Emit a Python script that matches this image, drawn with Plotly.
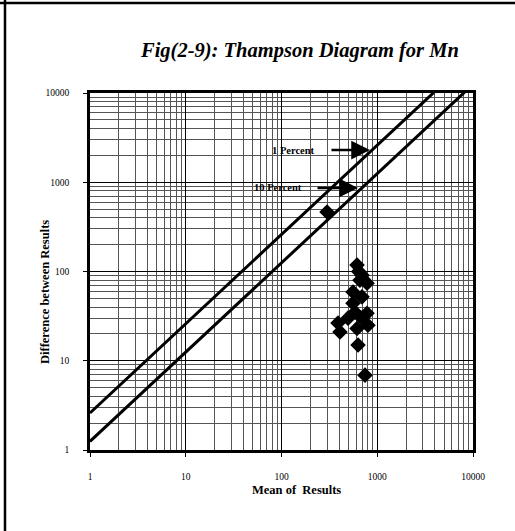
import plotly.graph_objects as go

# Data
mean_results = [299, 615, 693, 782, 558, 693, 558, 782, 389, 408, 615, 800, 630, 745, 495, 693, 586, 640, 660]
diff_results = [464, 118, 91, 74, 59, 52, 44, 34, 26.5, 21, 23, 25, 15, 6.9, 30, 30, 35, 100, 80]

line_x = [1, 10000]
one_pct_factor = 2.6
ten_pct_factor = 1.25
one_pct_y = [v * one_pct_factor for v in line_x]
ten_pct_y = [v * ten_pct_factor for v in line_x]

tick_vals = [1, 10, 100, 1000, 10000]
tick_text = ["1", "10", "100", "1000", "10000"]

FONT = "Liberation Serif"

fig = go.Figure()
fig.add_trace(go.Scatter(x=line_x, y=one_pct_y, mode="lines",
                         line=dict(color="black", width=3), hoverinfo="skip"))
fig.add_trace(go.Scatter(x=line_x, y=ten_pct_y, mode="lines",
                         line=dict(color="black", width=3), hoverinfo="skip"))
fig.add_trace(go.Scatter(x=mean_results, y=diff_results, mode="markers",
                         marker=dict(symbol="diamond", size=12, color="black",
                                     line=dict(width=0))))

axis_common = dict(
    type="log", range=[0, 4], tickvals=tick_vals, ticktext=tick_text,
    showgrid=True, gridcolor="black", gridwidth=1,
    minor=dict(showgrid=True, gridcolor="#555555", gridwidth=1, dtick="D1"),
    showline=True, linecolor="black", linewidth=2.5, mirror=True,
    ticks="outside", ticklen=4, tickcolor="black",
    tickfont=dict(family=FONT, size=9.5, color="black"),
    zeroline=False,
)
fig.update_xaxes(**axis_common, ticklabelstandoff=12)
fig.update_yaxes(**axis_common, ticklabelstandoff=12)

annotations = [
    dict(text="<b><i>Fig(2-9): Thampson Diagram for Mn</i></b>", xref="paper", yref="paper",
         x=(138 - 90) / 383, y=(450 - 51) / 357, showarrow=False, xanchor="left", yanchor="middle",
         font=dict(family=FONT, size=20.5, color="black")),
    dict(text="<b>Mean of  Results</b>", xref="paper", yref="paper",
         x=(296 - 90) / 383, y=(450 - 490) / 357, showarrow=False, xanchor="center", yanchor="middle",
         font=dict(family=FONT, size=12.5, color="black")),
    dict(text="<b>Difference between Results</b>", xref="paper", yref="paper",
         x=(45 - 90) / 383, y=(450 - 292) / 357, showarrow=False, textangle=-90,
         xanchor="center", yanchor="middle",
         font=dict(family=FONT, size=12.5, color="black")),
    dict(text="<b>1 Percent</b>", xref="x", yref="y", x=2.13, y=3.361, showarrow=False,
         xanchor="center", yanchor="middle", font=dict(family=FONT, size=10.5, color="black")),
    dict(text="<b>10 Percent</b>", xref="x", yref="y", x=1.963, y=2.936, showarrow=False,
         xanchor="center", yanchor="middle", font=dict(family=FONT, size=10.5, color="black")),
    dict(text="", xref="x", yref="y", x=2.924, y=3.361, ax=-40, ay=0, axref="pixel", ayref="pixel",
         showarrow=True, arrowhead=2, arrowsize=1.5, arrowwidth=2.5, arrowcolor="black"),
    dict(text="", xref="x", yref="y", x=2.799, y=2.936, ax=-42, ay=0, axref="pixel", ayref="pixel",
         showarrow=True, arrowhead=2, arrowsize=1.5, arrowwidth=2.5, arrowcolor="black"),
]

shapes = [
    dict(type="line", xref="paper", yref="paper", x0=(5 - 90) / 383, x1=(5 - 90) / 383,
         y0=(450 - 0) / 357, y1=(450 - 531) / 357, line=dict(color="black", width=2.5)),
    dict(type="line", xref="paper", yref="paper", x0=(0 - 90) / 383, x1=(515 - 90) / 383,
         y0=(450 - 3) / 357, y1=(450 - 3) / 357, line=dict(color="black", width=2.5)),
]

fig.update_layout(
    width=515, height=531,
    margin=dict(l=90, r=42, t=93, b=81),
    paper_bgcolor="white", plot_bgcolor="white",
    showlegend=False,
    annotations=annotations, shapes=shapes,
    font=dict(family=FONT, color="black"),
)

fig.write_html("out.html")
